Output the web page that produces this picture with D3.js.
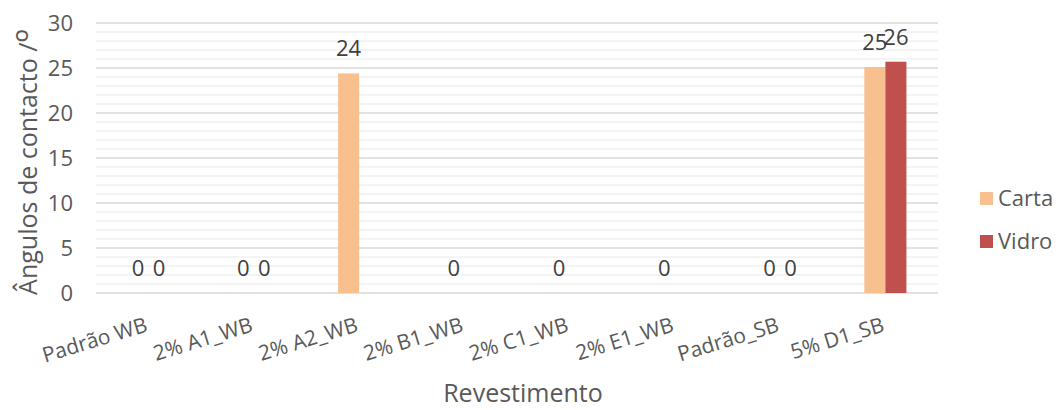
<!DOCTYPE html>
<html>
<head>
<meta charset="utf-8">
<script src="https://cdn.jsdelivr.net/npm/d3@7"></script>
<style>
  body { margin: 0; background: #fff; }
  text { font-family: "Open Sans", "Noto Sans", sans-serif; }
</style>
</head>
<body>
<div id="chart"></div>
<script>
'use strict';

var categories = ['Padrão WB', '2% A1_WB', '2% A2_WB', '2% B1_WB', '2% C1_WB', '2% E1_WB', 'Padrão_SB', '5% D1_SB'];
var seriesNames = ['Carta', 'Vidro'];
var cartaValues = [0, 0, 24.4, 0, 0, 0, 0, 25.1];
var vidroValues = [0, 0, null, null, null, null, 0, 25.7];
var cartaLabels = ['0', '0', '24', '0', '0', '0', '0', '25'];
var vidroLabels = ['0', '0', '', '', '', '', '0', '26'];
var yTicks = [0, 5, 10, 15, 20, 25, 30];

var colors = { Carta: '#f9c08f', Vidro: '#c0504d' };

var width = 1064, height = 410;
var svg = d3.select('#chart').append('svg')
  .attr('width', width)
  .attr('height', height);

var x0 = d3.scaleBand().domain(categories).range([96, 938])
  .paddingInner(0.6).paddingOuter(0.3);
var x1 = d3.scaleBand().domain(seriesNames).range([0, x0.bandwidth()]);
var y = d3.scaleLinear().domain([0, 30]).range([293, 23]);

// minor grid (every 1 unit)
svg.append('g').selectAll('line')
  .data(d3.range(0, 31).filter(function(v) { return v % 5 !== 0; }))
  .enter().append('line')
    .attr('x1', 96).attr('x2', 938)
    .attr('y1', function(d) { return y(d); })
    .attr('y2', function(d) { return y(d); })
    .attr('stroke', '#f0f0f0')
    .attr('stroke-width', 1.5);

// major grid
svg.append('g').selectAll('line')
  .data(yTicks)
  .enter().append('line')
    .attr('x1', 96).attr('x2', 938)
    .attr('y1', function(d) { return y(d); })
    .attr('y2', function(d) { return y(d); })
    .attr('stroke', '#d9d9d9')
    .attr('stroke-width', 1.5);

// y axis labels
var yAxis = svg.append('g')
  .attr('transform', 'translate(80,0)')
  .call(d3.axisLeft(y).tickValues(yTicks).tickSize(0).tickPadding(7));
yAxis.select('.domain').remove();
yAxis.selectAll('text')
  .attr('font-family', '"Open Sans", sans-serif')
  .attr('font-size', 22)
  .attr('fill', '#595959');

// bars
var rows = categories.map(function(c, i) {
  return {
    cat: c,
    values: [
      { name: 'Carta', value: cartaValues[i], label: cartaLabels[i] },
      { name: 'Vidro', value: vidroValues[i], label: vidroLabels[i] }
    ]
  };
});

var groups = svg.append('g').selectAll('.cat')
  .data(rows)
  .enter().append('g')
    .attr('class', 'cat')
    .attr('transform', function(d) { return 'translate(' + x0(d.cat) + ',0)'; });

groups.selectAll('rect')
  .data(function(d) { return d.values.filter(function(v) { return v.value !== null && v.value > 0; }); })
  .enter().append('rect')
    .attr('x', function(d) { return x1(d.name); })
    .attr('width', x1.bandwidth())
    .attr('y', function(d) { return y(d.value); })
    .attr('height', function(d) { return y(0) - y(d.value); })
    .attr('fill', function(d) { return colors[d.name]; });

groups.selectAll('.lbl')
  .data(function(d) { return d.values.filter(function(v) { return v.value !== null; }); })
  .enter().append('text')
    .attr('class', 'lbl')
    .attr('x', function(d) { return x1(d.name) + x1.bandwidth() / 2; })
    .attr('y', function(d) { return y(d.value) - 17; })
    .attr('text-anchor', 'middle')
    .attr('font-size', 22)
    .attr('fill', '#404040')
    .text(function(d) { return d.label; });

// category labels
svg.append('g').selectAll('text')
  .data(categories)
  .enter().append('text')
    .attr('transform', function(d) {
      return 'translate(' + (x0(d) + x0.bandwidth() / 2) + ',331) rotate(-17)';
    })
    .attr('text-anchor', 'end')
    .attr('font-size', 21)
    .attr('fill', '#595959')
    .text(function(d) { return d; });

// axis titles
var yTitle = svg.append('text')
  .attr('transform', 'translate(37,162) rotate(-90)')
  .attr('text-anchor', 'middle')
  .attr('font-size', 25)
  .attr('fill', '#595959');
yTitle.append('tspan').text('Ângulos de contacto /');
yTitle.append('tspan').attr('font-size', 36).attr('dy', 5).text('º');

svg.append('text')
  .attr('x', 523).attr('y', 402)
  .attr('text-anchor', 'middle')
  .attr('font-size', 25)
  .attr('fill', '#595959')
  .text('Revestimento');

// legend
var legend = svg.append('g').selectAll('.leg')
  .data(seriesNames)
  .enter().append('g')
    .attr('class', 'leg')
    .attr('transform', function(d, i) { return 'translate(980,' + (192 + i * 43) + ')'; });

legend.append('rect')
  .attr('width', 13).attr('height', 13)
  .attr('fill', function(d) { return colors[d]; });

legend.append('text')
  .attr('x', 18).attr('y', 14)
  .attr('font-size', 22)
  .attr('fill', '#595959')
  .text(function(d) { return d; });
</script>
</body>
</html>
